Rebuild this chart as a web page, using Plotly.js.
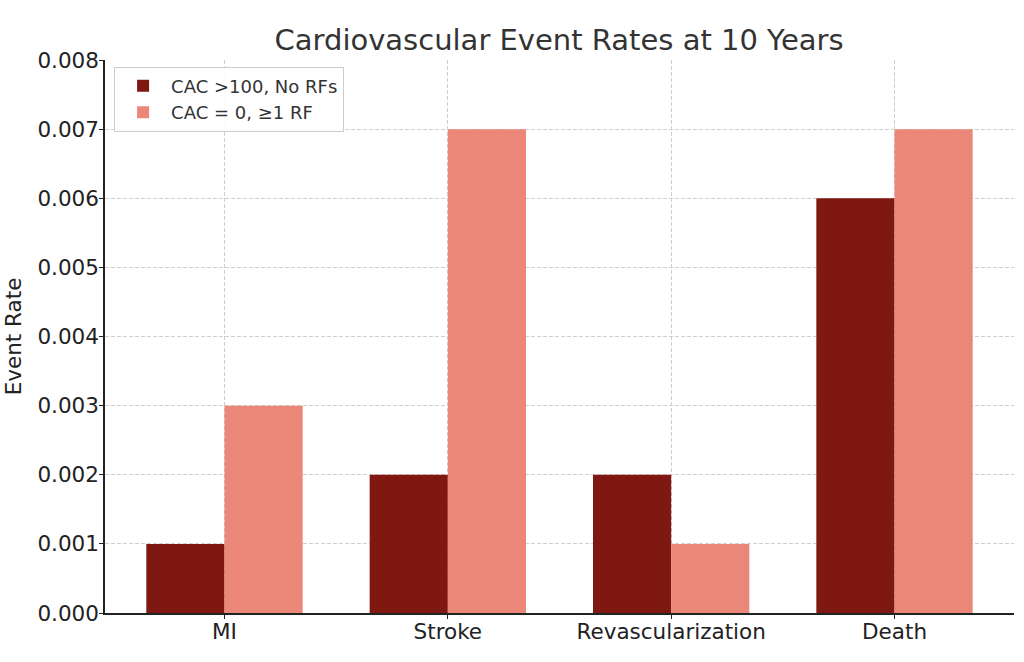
<!DOCTYPE html>
<html><head><meta charset="utf-8">
<script src="https://cdn.plot.ly/plotly-3.0.1.min.js"></script>
<style>body{margin:0;background:#fff}#c{width:1024px;height:662px}</style>
</head><body><div id="c"></div>
<script>
const categories = ["MI", "Stroke", "Revascularization", "Death"];
const cac100NoRF = [0.001, 0.002, 0.002, 0.006];
const cac0OneRF = [0.003, 0.007, 0.001, 0.007];
const seriesNames = ["CAC >100, No RFs", "CAC = 0, \u22651 RF"];
const yTicks = [0, 0.001, 0.002, 0.003, 0.004, 0.005, 0.006, 0.007, 0.008];

const font = "DejaVu Sans, sans-serif";
const data = [
  {type: "bar", x: categories, y: cac100NoRF, name: seriesNames[0], marker: {color: "#7F1810"}},
  {type: "bar", x: categories, y: cac0OneRF, name: seriesNames[1], marker: {color: "#EA8778"}}
];
const layout = {
  width: 1024, height: 662,
  margin: {l: 105, r: 10, t: 60, b: 49},
  paper_bgcolor: "#fff", plot_bgcolor: "#fff",
  barmode: "group", bargap: 0.3, bargroupgap: 0,
  font: {family: font, color: "#222", size: 21},
  title: {text: "Cardiovascular Event Rates at 10 Years", font: {family: font, size: 29, color: "#333"}, x: 0.546, xanchor: "center", y: 0.94, yanchor: "middle"},
  xaxis: {
    range: [-0.535, 3.535], showline: true, linecolor: "#222", linewidth: 1.5,
    showgrid: true, gridcolor: "#cfcfcf", griddash: "4px,2px", gridwidth: 1,
    ticks: "outside", ticklen: 4, tickcolor: "#222", tickfont: {size: 21.5, color: "#222"},
    ticklabelstandoff: -6,
    zeroline: false
  },
  yaxis: {
    range: [0, 0.008], tickvals: yTicks, tickformat: ".3f",
    showline: true, linecolor: "#222", linewidth: 1.5,
    showgrid: true, gridcolor: "#cfcfcf", griddash: "4px,2px", gridwidth: 1,
    ticks: "outside", ticklen: 4, tickcolor: "#222", tickfont: {size: 21.5, color: "#222"},
    ticklabelstandoff: -4,
    zeroline: false,
    title: {text: "Event Rate", font: {size: 21.5, color: "#222"}, standoff: 10}
  },
  legend: {
    x: 0.01, y: 0.988, xanchor: "left", yanchor: "top",
    bgcolor: "rgba(255,255,255,0.85)", bordercolor: "#ccc", borderwidth: 1,
    font: {size: 18, color: "#333"}, tracegroupgap: 2, itemwidth: 46
  },
  showlegend: true
};
Plotly.newPlot("c", data, layout, {displayModeBar: false});
</script></body></html>
